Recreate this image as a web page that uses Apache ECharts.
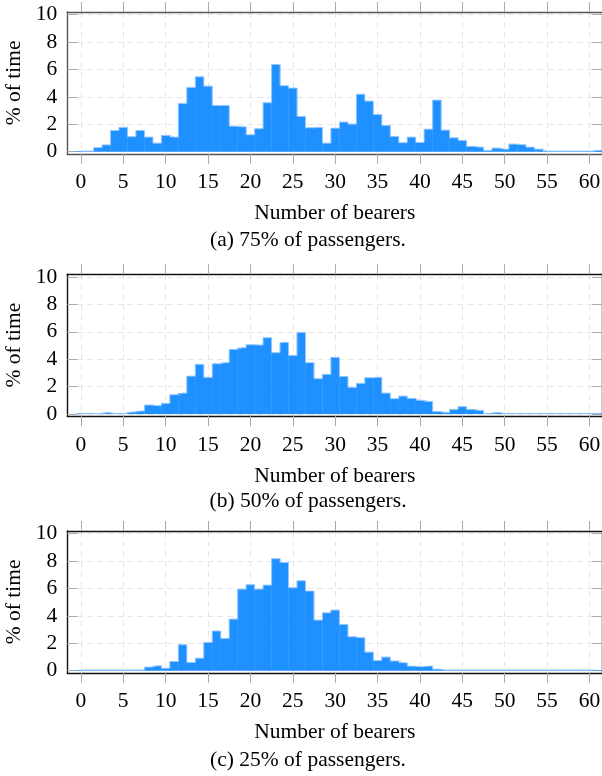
<!DOCTYPE html>
<html><head><meta charset="utf-8">
<script src="https://cdn.jsdelivr.net/npm/echarts@6/dist/echarts.min.js"></script>
<style>html,body{margin:0;padding:0;background:#fff}#c{width:602px;height:776px}</style>
</head><body><div id="c"></div>
<script>
const bearers = [0,1,2,3,4,5,6,7,8,9,10,11,12,13,14,15,16,17,18,19,20,21,22,23,24,25,26,27,28,29,30,31,32,33,34,35,36,37,38,39,40,41,42,43,44,45,46,47,48,49,50,51,52,53,54,55,56,57,58,59,60,61];
const share75 = [0.05,0.05,0.3,0.5,1.55,1.78,1.1,1.55,1.07,0.63,
  1.19,1.07,3.53,4.7,5.47,4.79,3.38,3.38,1.87,1.82,
  1.24,1.68,3.58,6.37,4.82,4.65,2.58,1.75,1.78,0.63,
  1.72,2.17,2.02,4.2,3.7,2.72,1.92,1.12,0.66,1.07,
  0.68,1.65,3.77,1.58,1.02,0.83,0.39,0.34,0.1,0.27,
  0.19,0.56,0.51,0.34,0.19,0.05,0.05,0.05,0.05,0.05,
  0.05,0.1];
const share50 = [0.05,0.05,0.03,0.1,0.05,0.05,0.15,0.22,0.66,0.61,
  0.78,1.41,1.53,2.77,3.63,2.68,3.67,3.75,4.72,4.84,
  5.06,5.04,5.57,4.48,5.23,4.28,5.96,3.75,2.58,2.9,
  4.14,2.75,1.95,2.24,2.65,2.68,1.53,1.12,1.31,1.14,
  1.0,0.92,0.19,0.12,0.34,0.54,0.34,0.27,0.05,0.1,
  0.05,0.05,0.05,0.05,0.05,0.05,0.05,0.05,0.05,0.05,
  0.05,0.05];
const share25 = [0.05,0.05,0.05,0.05,0.05,0.05,0.05,0.05,0.27,0.36,
  0.19,0.68,1.9,0.61,0.92,2.07,2.9,2.36,3.77,5.96,
  6.28,5.96,6.25,8.18,7.9,6.06,6.57,5.82,3.7,4.23,
  4.43,3.38,2.48,2.41,1.36,0.75,1.0,0.71,0.58,0.34,
  0.29,0.34,0.12,0.05,0.05,0.05,0.05,0.05,0.05,0.05,
  0.05,0.05,0.05,0.05,0.05,0.05,0.05,0.05,0.05,0.05,
  0.05,0.05];
const xTicks = [0,5,10,15,20,25,30,35,40,45,50,55,60];
const yTicks = [0,2,4,6,8,10];
const captions = ['(a) 75% of passengers.', '(b) 50% of passengers.', '(c) 25% of passengers.'];
const xLabel = 'Number of bearers';
const yLabel = '% of time';

const FONT = 'Liberation Serif';
const FS = 21.5;
const panels = [
  {top: 12, values: share75, border: '#555', cap: 240},
  {top: 274.3, values: share50, border: '#111', cap: 501},
  {top: 531, values: share25, border: '#111', cap: 760}
];
const gridH = 141.8, gridL = 67.3, gridW = 534.9;
const X_MIN = -1.6, X_MAX = 61.5, Y_MIN = -0.15, Y_MAX = 10.2;
const tickColor = '#aaaaaa';
const gridLine = {show: true, lineStyle: {color: '#e6e6e6', type: [6, 4], width: 1}};

const grids = [], xAxes = [], yAxes = [], series = [], graphics = [];
panels.forEach((p, k) => {
  grids.push({left: gridL, top: p.top, width: gridW, height: gridH, containLabel: false, outerBoundsMode: 'none'});
  const line = {show: true, onZero: false, lineStyle: {color: p.border, width: 1.4}};
  xAxes.push({
    type: 'value', gridIndex: k, position: 'bottom', min: X_MIN, max: X_MAX,
    axisLine: line,
    axisTick: {show: true, customValues: xTicks, inside: false, length: 10, lineStyle: {color: tickColor}},
    axisLabel: {customValues: xTicks, margin: 18, fontFamily: FONT, fontSize: FS, color: '#000'},
    splitLine: gridLine,
    name: xLabel, nameLocation: 'middle', nameGap: 49,
    nameTextStyle: {fontFamily: FONT, fontSize: FS, color: '#000'}
  });
  xAxes.push({
    type: 'value', gridIndex: k, position: 'top', min: X_MIN, max: X_MAX,
    axisLine: line,
    axisTick: {show: true, customValues: xTicks, inside: false, length: 10, lineStyle: {color: tickColor}},
    axisLabel: {show: false}, splitLine: {show: false}
  });
  yAxes.push({
    type: 'value', gridIndex: k, position: 'left', min: Y_MIN, max: Y_MAX,
    axisLine: line,
    axisTick: {show: true, customValues: yTicks, inside: true, length: 10, lineStyle: {color: tickColor}},
    axisLabel: {customValues: yTicks, margin: 10, fontFamily: FONT, fontSize: FS, color: '#000'},
    splitLine: gridLine,
    name: yLabel, nameLocation: 'middle', nameGap: 39, nameRotate: 90,
    nameTextStyle: {fontFamily: FONT, fontSize: FS, color: '#000'}
  });
  yAxes.push({
    type: 'value', gridIndex: k, position: 'right', min: Y_MIN, max: Y_MAX,
    axisLine: line,
    axisTick: {show: true, customValues: yTicks, inside: true, length: 10, lineStyle: {color: tickColor}},
    axisLabel: {show: false}, splitLine: {show: false}
  });
  const data = bearers.map((b, i) => [b, p.values[i]]);
  series.push({
    type: 'bar', xAxisIndex: 2 * k, yAxisIndex: 2 * k, data: data,
    barWidth: '104%', itemStyle: {color: '#1E90FF', borderWidth: 0}, z: 2, silent: true
  });
  series.push({
    type: 'line', step: 'middle', xAxisIndex: 2 * k, yAxisIndex: 2 * k, data: data,
    showSymbol: false, symbol: 'none', lineStyle: {color: 'rgba(150,200,255,1)', width: 1}, z: 3, silent: true
  });
  graphics.push({
    type: 'text', x: 308, y: p.cap,
    style: {text: captions[k], fontFamily: FONT, fontSize: FS, fill: '#000', align: 'center', verticalAlign: 'middle'}
  });
});

const chart = echarts.init(document.getElementById('c'), null, {renderer: 'canvas'});
chart.setOption({
  animation: false,
  grid: grids, xAxis: xAxes, yAxis: yAxes, series: series,
  graphic: graphics
});
</script>
</body></html>
